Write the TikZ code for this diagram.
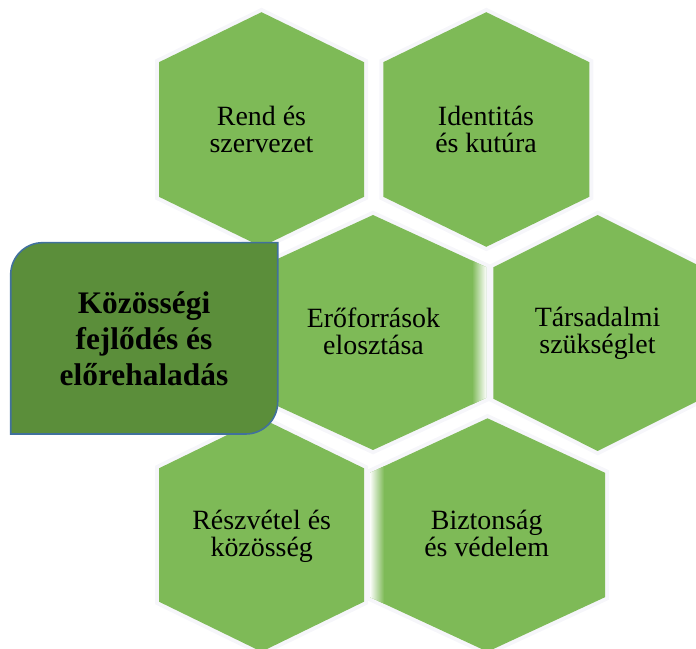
\documentclass[tikz,border=0pt]{standalone}
\usepackage{fontspec}
\setmainfont{Liberation Serif}
\definecolor{hexgreen}{RGB}{126,186,87}
\definecolor{boxgreen}{RGB}{91,142,58}
\definecolor{boxblue}{RGB}{65,113,156}
\definecolor{halo}{RGB}{246,246,250}
% hexagon: #1 options, #2 cx, #3 cy, #4 half width, #5 half height, #6 slant height
\newcommand\hexpath[6]{\path[#1] ({#2},{#3+#5}) -- ({#2+#4},{#3+#5-#6}) -- ({#2+#4},{#3-#5+#6}) -- ({#2},{#3-#5}) -- ({#2-#4},{#3-#5+#6}) -- ({#2-#4},{#3+#5-#6}) -- cycle;}
\tikzset{
  hexfill/.style={fill=hexgreen},
  hexhalo/.style={draw=halo, line width=8bp, line join=miter},
  hextext/.style={font=\fontsize{28}{27}\selectfont, align=center, inner sep=0pt, text=black},
  maintext/.style={font=\bfseries\fontsize{31.5}{36.5}\selectfont, align=center, inner sep=0pt, text=black},
  mainbox/.style={fill=boxgreen, draw=boxblue, line width=1.6bp}
}
\begin{document}
\begin{tikzpicture}[x=1bp, y=1bp]
\useasboundingbox (0,0) rectangle (696,649);
\clip (0,0) rectangle (696,649);
% halos
\hexpath{hexhalo}{261.5}{519.5}{102.5}{117.3}{50}
\hexpath{hexhalo}{486.3}{519.5}{103}{117.3}{50}
\hexpath{hexhalo}{373}{316.5}{113}{117.5}{52}
\hexpath{hexhalo}{597.7}{316}{104.4}{118}{52.3}
\hexpath{hexhalo}{261.5}{114}{102.5}{116.7}{50}
\hexpath{hexhalo}{487.5}{114}{117.5}{116.7}{54.5}
% fills
\hexpath{hexfill}{261.5}{519.5}{102.5}{117.3}{50}
\hexpath{hexfill}{486.3}{519.5}{103}{117.3}{50}
\hexpath{hexfill}{373}{316.5}{113}{117.5}{52}
\hexpath{hexfill}{597.7}{316}{104.4}{118}{52.3}
\hexpath{hexfill}{261.5}{114}{102.5}{116.7}{50}
\hexpath{hexfill}{487.5}{114}{117.5}{116.7}{54.5}
% soft fades
\begin{scope}
  \hexpath{clip}{373}{316.5}{113}{117.5}{52}
  \shade[left color=hexgreen, right color=white] (472,190) rectangle (486.5,440);
\end{scope}
\begin{scope}
  \hexpath{clip}{487.5}{114}{117.5}{116.7}{54.5}
  \shade[left color=white, right color=hexgreen] (369.5,0) rectangle (384,240);
\end{scope}
% texts
\node[hextext] (rend) at (261.5,519.5) {Rend és\\szervezet};
\node[hextext] (ident) at (486,519.5) {Identitás\\és kutúra};
\node[hextext] (eroforr) at (373.5,317.5) {Erőforrások\\elosztása};
\node[hextext] (tars) at (597.5,315.3) {Társadalmi\\szükséglet};
\node[hextext] (reszv) at (261.7,112.9) {Részvétel és\\közösség};
\node[hextext] (bizt) at (486.7,115.8) {Biztonság\\és védelem};
% main box
\path[mainbox] (10.7,215) -- (10.7,374.3) arc[start angle=180, end angle=90, radius=32] -- (277.7,406.3) -- (277.7,247) arc[start angle=0, end angle=-90, radius=32] -- cycle;
\node[maintext] (main) at (144,310.3) {Közösségi\\fejlődés és\\előrehaladás};
\end{tikzpicture}
\end{document}
